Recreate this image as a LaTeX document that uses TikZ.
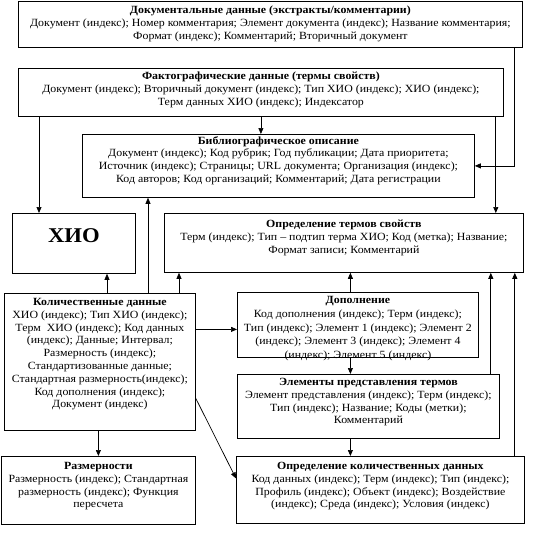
\documentclass[tikz,border=0pt]{standalone}
\usepackage{fontspec}
\setmainfont{Liberation Serif}[FakeStretch=1.08]
\usetikzlibrary{positioning, arrows.meta, calc}

\begin{document}
\begin{tikzpicture}[
      x=1pt, y=-1pt,
      font=\fontsize{11}{12.8}\selectfont,
      tbl/.style={draw, line width=0.8pt, inner sep=0pt, anchor=north west},
      txt/.style={align=center, inner sep=0pt},
      link/.style={line width=0.7pt, -{Triangle[length=6pt, width=5pt]}}
  ]
    \useasboundingbox (0,0) rectangle (544,544);
    \node[tbl, minimum width=504pt, minimum height=46pt](doc) at (18,1){};
    \node[tbl, minimum width=485pt, minimum height=48pt](fakto) at (18,68){};
    \node[tbl, minimum width=392pt, minimum height=63pt](biblio) at (82,134){};
    \node[tbl, minimum width=123pt, minimum height=60pt](hio) at (12,213){};
    \node[tbl, minimum width=359pt, minimum height=59pt](termy) at (164,213){};
    \node[tbl, minimum width=191pt, minimum height=137pt](kolich) at (4,293){};
    \node[tbl, minimum width=241pt, minimum height=65pt](dopoln) at (237,292){};
    \node[tbl, minimum width=262pt, minimum height=64pt](elem) at (237,374){};
    \node[tbl, minimum width=194pt, minimum height=68pt](razm) at (1,456){};
    \node[tbl, minimum width=288pt, minimum height=67pt](kolopr) at (236,456){};

    \node[txt, below=5pt of doc.north](doc-t){\textbf{Документальные данные (экстракты/комментарии)}\\
      Документ (индекс); Номер комментария; Элемент документа (индекс); Название комментария;\\
      Формат (индекс); Комментарий; Вторичный документ};
    \node[txt, below=4pt of fakto.north](fakto-t){\textbf{Фактографические данные (термы свойств)}\\
      Документ (индекс); Вторичный документ (индекс); Тип ХИО (индекс); ХИО (индекс);\\
      Терм данных ХИО (индекс); Индексатор};
    \node[txt, below=2pt of biblio.north](biblio-t){\textbf{Библиографическое описание}\\
      Документ (индекс); Код рубрик; Год публикации; Дата приоритета;\\
      Источник (индекс); Страницы; URL документа; Организация (индекс);\\
      Код авторов; Код организаций; Комментарий; Дата регистрации};
    \node[font=\fontsize{21}{24}\bfseries\selectfont](hio-t) at ([yshift=8pt]hio.center){ХИО};
    \node[txt, below=7pt of termy.north](termy-t){\textbf{Определение термов свойств}\\
      Терм (индекс); Тип – подтип терма ХИО; Код (метка); Название;\\
      Формат записи; Комментарий};
    \node[txt, below=5pt of kolich.north](kolich-t){\textbf{Количественные данные}\\
      ХИО (индекс); Тип ХИО (индекс);\\
      Терм~~ХИО (индекс); Код данных\\
      (индекс); Данные; Интервал;\\
      Размерность (индекс);\\
      Стандартизованные данные;\\
      Стандартная размерность(индекс);\\
      Код дополнения (индекс);\\
      Документ (индекс)};
    \node[txt, font=\fontsize{11}{13.8}\selectfont, below=4pt of dopoln.north](dopoln-t){\textbf{Дополнение}\\
      Код дополнения (индекс); Терм (индекс);\\
      Тип (индекс); Элемент 1 (индекс); Элемент 2\\
      (индекс); Элемент 3 (индекс); Элемент 4\\
      (индекс); Элемент 5 (индекс)};
    \draw[line width=0.8pt] (dopoln.south west) -- (dopoln.south east);
    \node[txt, below=4pt of elem.north](elem-t){\textbf{Элементы представления термов}\\
      Элемент представления (индекс); Терм (индекс);\\
      Тип (индекс); Название; Коды (метки);\\
      Комментарий};
    \node[txt, below=6pt of razm.north](razm-t){\textbf{Размерности}\\
      Размерность (индекс); Стандартная\\
      размерность (индекс); Функция\\
      пересчета};
    \node[txt, below=6pt of kolopr.north](kolopr-t){\textbf{Определение количественных данных}\\
      Код данных (индекс); Терм (индекс); Тип (индекс);\\
      Профиль (индекс); Объект (индекс); Воздействие\\
      (индекс); Среда (индекс); Условия (индекс)};

    \coordinate (d1) at ([xshift=-8pt]doc.south east);
    \draw[link](d1) |- (biblio.east);
    \coordinate (f1) at ([xshift=27pt]hio.north west);
    \draw[link](fakto.south -| f1) -- (f1);
    \draw[link](fakto.south) -- (fakto.south |- biblio.north);
    \coordinate (f2) at ([xshift=-28pt]termy.north east);
    \draw[link](fakto.south -| f2) -- (f2);
    \coordinate (k1) at ([xshift=95pt]hio.south west);
    \draw[link](kolich.north -| k1) -- (k1);
    \coordinate (k2) at ([xshift=66pt]biblio.south west);
    \draw[link](kolich.north -| k2) -- (k2);
    \coordinate (k3) at ([xshift=15pt]termy.south west);
    \draw[link](kolich.north -| k3) -- (k3);
    \coordinate (k4) at ([yshift=-4.5pt]dopoln.west);
    \draw[link](kolich.east |- k4) -- (k4);
    \draw[link](kolich.south -| razm.north) -- (razm.north);
    \draw[link]([yshift=-36.5pt]kolich.east) -- ([yshift=11.5pt]kolopr.west);
    \coordinate (p1) at ([xshift=-7.5pt]dopoln.north);
    \draw[link](p1) -- (termy.south -| p1);
    \draw[link](dopoln.south -| p1) -- (elem.north -| p1);
    \coordinate (e1) at ([xshift=-9pt]elem.north east);
    \draw[link](e1) -- (termy.south -| e1);
    \draw[link](elem.south -| p1) -- (kolopr.north -| p1);
    \coordinate (o1) at ([xshift=-10pt]kolopr.north east);
    \draw[link](o1) -- (termy.south -| o1);
  \end{tikzpicture}
\end{document}
